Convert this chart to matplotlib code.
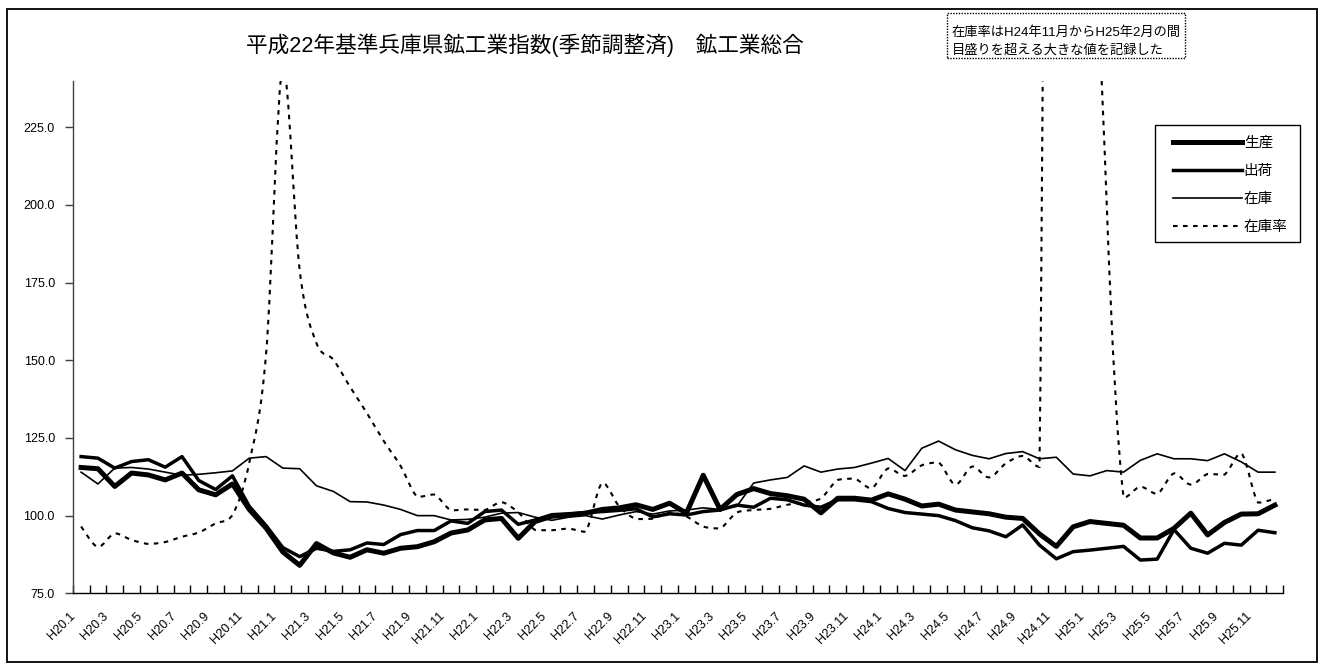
import numpy as np
import matplotlib
matplotlib.use("Agg")
import matplotlib.pyplot as plt
from matplotlib.path import Path
from matplotlib.patches import PathPatch, Rectangle
from matplotlib.lines import Line2D
from matplotlib.ticker import FormatStrFormatter
from matplotlib.transforms import ScaledTranslation

plt.rcParams['font.family'] = ['Liberation Sans', 'Noto Sans CJK JP']

# 平成20年1月 - 平成25年12月 (monthly, seasonally adjusted)
production = [
    115.5, 115.1, 109.4, 113.7, 113.1, 111.5, 113.7, 108.3, 106.7, 110.2, 102.0, 96.0,
    88.3, 84.0, 91.0, 88.0, 86.6, 89.0, 87.9, 89.5, 90.0, 91.6, 94.4, 95.4,
    98.6, 99.1, 92.7, 98.1, 99.8, 100.2, 100.8, 102.0, 102.5, 103.5, 102.0, 104.0,
    100.8, 113.0, 102.0, 106.8, 108.7, 107.1, 106.4, 105.3, 100.9, 105.6, 105.6, 105.0,
    107.0, 105.3, 103.1, 103.7, 101.8, 101.2, 100.6, 99.5, 99.1, 94.1, 90.1, 96.4,
    98.1, 97.5, 96.9, 92.8, 92.8, 95.9, 100.8, 93.8, 97.8, 100.5, 100.6, 103.4,
]
shipment = [
    119.0, 118.5, 115.3, 117.4, 118.0, 115.6, 119.0, 111.3, 108.4, 112.8, 103.0, 96.8,
    89.7, 86.8, 89.5, 88.5, 89.0, 91.2, 90.7, 93.9, 95.2, 95.2, 98.3, 97.5,
    101.3, 101.8, 97.2, 98.6, 100.3, 100.6, 101.0, 101.3, 101.7, 102.2, 99.6, 100.6,
    100.2, 101.3, 101.8, 103.4, 102.7, 105.6, 105.1, 103.4, 102.7, 105.1, 105.1, 104.5,
    102.3, 101.0, 100.5, 100.0, 98.4, 96.1, 95.1, 93.2, 97.0, 90.5, 86.1, 88.4,
    88.9, 89.5, 90.1, 85.7, 86.0, 95.5, 89.5, 87.9, 91.1, 90.5, 95.3, 94.5,
]
inventory = [
    114.0, 110.2, 115.3, 115.5, 115.0, 114.0, 113.0, 113.3, 113.8, 114.4, 118.5, 119.0,
    115.3, 115.1, 109.6, 107.8, 104.5, 104.4, 103.4, 102.0, 100.0, 100.0, 98.6, 98.8,
    99.5, 100.8, 101.0, 99.5, 98.5, 99.5, 100.0, 98.9, 100.2, 101.3, 100.5, 101.5,
    101.8, 102.5, 102.0, 103.0, 110.5, 111.5, 112.3, 116.0, 114.0, 115.0, 115.5, 116.9,
    118.4, 114.5, 121.7, 124.0, 121.2, 119.4, 118.3, 120.0, 120.6, 118.3, 118.8, 113.4,
    112.8, 114.5, 114.0, 117.8, 119.9, 118.3, 118.3, 117.7, 119.9, 117.3, 114.0, 114.0,
]
# H24.11 - H25.2 are far above the scale (values estimated)
inv_ratio = [
    96.5, 89.9, 94.3, 92.2, 90.9, 91.5, 93.2, 94.6, 97.5, 100.2, 117.0, 152.0,
    245.0, 179.0, 155.5, 150.2, 141.4, 133.0, 124.0, 116.0, 106.0, 106.8, 101.7, 102.0,
    101.8, 104.3, 101.0, 95.4, 95.3, 95.8, 94.8, 110.6, 103.0, 98.9, 99.0, 101.0,
    99.7, 96.5, 95.9, 101.0, 101.8, 102.2, 103.5, 104.3, 105.6, 111.5, 111.9, 108.8,
    115.2, 112.8, 116.2, 117.1, 110.0, 115.8, 112.3, 116.8, 119.2, 115.7, 1000.0, 1000.0,
    400.0, 200.0, 105.8, 109.3, 107.0, 113.6, 110.0, 113.4, 113.2, 120.1, 104.2, 105.4,
]
tick_labels = [
    "H20.1", "H20.3", "H20.5", "H20.7", "H20.9", "H20.11",
    "H21.1", "H21.3", "H21.5", "H21.7", "H21.9", "H21.11",
    "H22.1", "H22.3", "H22.5", "H22.7", "H22.9", "H22.11",
    "H23.1", "H23.3", "H23.5", "H23.7", "H23.9", "H23.11",
    "H24.1", "H24.3", "H24.5", "H24.7", "H24.9", "H24.11",
    "H25.1", "H25.3", "H25.5", "H25.7", "H25.9", "H25.11",
]
series_names = ["生産", "出荷", "在庫", "在庫率"]
title = "平成22年基準兵庫県鉱工業指数(季節調整済)　鉱工業総合"
note_lines = ["在庫率はH24年11月からH25年2月の間", "目盛りを超える大きな値を記録した"]

W, H = 1324, 664
ratio_dash = (0, (2.2, 2.6))


def smooth_path(xs, ys):
    # smoothed line like excel: catmull-rom -> bezier, controls kept inside each segment
    pts = np.column_stack([xs, ys]).astype(float)
    n = len(pts)
    verts = [pts[0]]
    codes = [Path.MOVETO]
    for k in range(n - 1):
        p0 = pts[max(k - 1, 0)]
        p1 = pts[k]
        p2 = pts[k + 1]
        p3 = pts[min(k + 2, n - 1)]
        c1 = p1 + (p2 - p0) / 6
        c2 = p2 - (p3 - p1) / 6
        lo, hi = min(p1[1], p2[1]), max(p1[1], p2[1])
        c1[1] = np.clip(c1[1], lo, hi)
        c2[1] = np.clip(c2[1], lo, hi)
        verts += [c1, c2, p2]
        codes += [Path.CURVE4] * 3
    return Path(verts, codes)


fig = plt.figure(figsize=(W / 100, H / 100), dpi=100)
ax = fig.add_axes([72.7 / W, 1 - 593.3 / H, (1283.3 - 72.7) / W, (593.3 - 80.7) / H])

x = np.arange(len(production))
ax.plot(x, production, color="black", lw=3.6, solid_joinstyle="round")
ax.plot(x, shipment, color="black", lw=2.5, solid_joinstyle="round")
ax.plot(x, inventory, color="black", lw=1.2, solid_joinstyle="round")
ax.add_patch(PathPatch(smooth_path(x, inv_ratio), fill=False, edgecolor="black",
                       lw=1.5, linestyle=ratio_dash, capstyle="butt"))

ax.set_xlim(-0.5, len(x) - 0.5)
ax.set_ylim(75, 240)
ax.set_yticks(np.arange(75, 226, 25))
ax.yaxis.set_major_formatter(FormatStrFormatter("%.1f"))

ax.set_xticks(x[::2])
ax.set_xticklabels(tick_labels, rotation=45, ha="right", va="center", rotation_mode="anchor")
ax.set_xticks(np.arange(-0.5, len(x), 1), minor=True)
ax.tick_params(axis="x", which="major", length=0, pad=15, labelsize=9)
ax.tick_params(axis="x", which="minor", length=6, width=1, direction="in")
ax.tick_params(axis="y", length=6, width=1, direction="out", pad=6.8, labelsize=9,
               color="#404040")
shift = ScaledTranslation(-8 / 100, 0, fig.dpi_scale_trans)
for lab in ax.get_xticklabels():
    lab.set_transform(lab.get_transform() + shift)

ax.spines["top"].set_visible(False)
ax.spines["right"].set_visible(False)
ax.spines["left"].set_color("#404040")
ax.spines["left"].set_linewidth(1)
ax.spines["bottom"].set_linewidth(1)

# legend
handles = [
    Line2D([], [], color="black", lw=3.6),
    Line2D([], [], color="black", lw=2.5),
    Line2D([], [], color="black", lw=1.2),
    Line2D([], [], color="black", lw=1.5, linestyle=ratio_dash),
]
ax.legend(handles, series_names, loc="upper left", frameon=False, fontsize=10.5,
          bbox_to_anchor=(1173 / W, 1 - 136 / H), bbox_transform=fig.transFigure,
          borderpad=0, borderaxespad=0, handlelength=4.75, handletextpad=0.1,
          labelspacing=0.97)
fig.add_artist(Rectangle((1155 / W, 1 - 241.7 / H), 145 / W, 116.7 / H,
                         transform=fig.transFigure, fill=False, lw=1, ec="black"))

# note box
fig.add_artist(Rectangle((947 / W, 1 - 58 / H), 238 / W, 45 / H, transform=fig.transFigure,
                         fill=False, lw=1, ec="black", linestyle=(0, (1, 1))))
fig.text(952 / W, 1 - 33 / H, note_lines[0], fontsize=9.5, va="center", ha="left")
fig.text(952 / W, 1 - 50 / H, note_lines[1], fontsize=9.5, va="center", ha="left")

fig.text(525 / W, 1 - 45 / H, title, fontsize=15.6, ha="center", va="center")

# chart border
fig.add_artist(Rectangle((7 / W, 2 / H), 1310 / W, 653 / H, transform=fig.transFigure,
                         fill=False, lw=1.3, ec="black"))

fig.savefig("out.png", dpi=100)
